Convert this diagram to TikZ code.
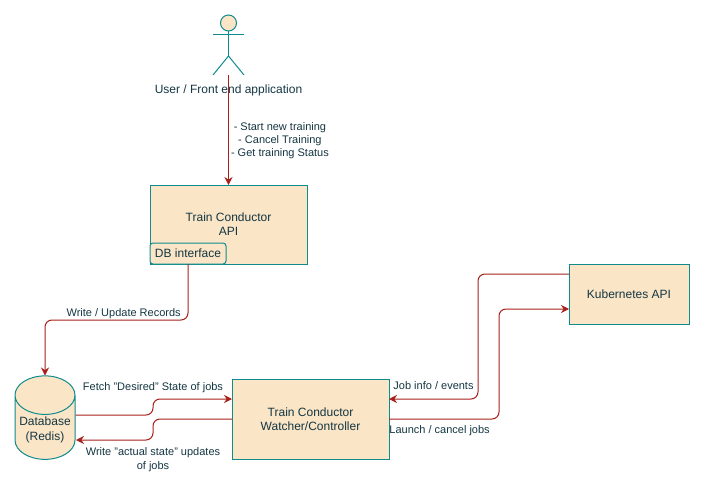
\documentclass[tikz,border=0pt]{standalone}
\usepackage{fontspec}
\setmainfont{Liberation Sans}
\usetikzlibrary{arrows.meta, positioning, calc, shapes.geometric}
\definecolor{boxfill}{HTML}{FAE5C7}
\definecolor{boxline}{HTML}{0F8B8D}
\definecolor{linkline}{HTML}{A8201A}
\definecolor{labeltext}{HTML}{143642}
\tikzset{%
  box/.style={draw=boxline, fill=boxfill, text=labeltext, align=center, inner sep=0pt, outer sep=0pt, line width=1pt, font=\fontsize{12}{14}\selectfont},
  limb/.style={draw=boxline, line width=1pt},
  link/.style={draw=linkline, line width=1pt, rounded corners=7pt, -{Stealth[length=8pt,width=8pt]}},
  tag/.style={text=labeltext, align=center, inner sep=0pt, font=\fontsize{11}{13}\selectfont},
}
\begin{document}
\begin{tikzpicture}[x=1pt,y=-1pt]
  \useasboundingbox (0,0) rectangle (705,487);

  \node[box, circle, minimum size=16pt] (head) at (228.5,23) {};
  \coordinate (hip) at (228.5,56);
  \coordinate (armleft) at (213,35);
  \coordinate (armright) at (244,35);
  \coordinate (footleft) at (213,75);
  \coordinate (footright) at (244,75);
  \coordinate (user) at (228.5,75);
  \draw[limb] (head) -- (hip);
  \draw[limb] (armleft) -- (armright);
  \draw[limb] (footleft) -- (hip) -- (footright);
  \node[tag, font=\fontsize{12}{14}\selectfont] (userlabel) at (228.5,90.5) {User / Front end application};

  \node[box, minimum width=157pt, minimum height=79pt] (api) at (228.5,224.5) {Train Conductor\\API};
  \node[box, rounded corners=3pt, minimum width=76pt, minimum height=21pt, anchor=south west] (dbif) at (api.south west) {DB interface};
  \node[box, minimum width=157pt, minimum height=80pt] (watcher) [below = 115pt of api, xshift=82pt] {Train Conductor\\Watcher/Controller};
  \node[box, minimum width=120pt, minimum height=60pt] (kube) [above right = 55pt and 180pt of watcher.north east] {Kubernetes API};
  \node[box, cylinder, shape border rotate=90, aspect=0.75, minimum width=60pt, minimum height=79pt] (db) [left = 187pt of watcher.west, anchor=center, yshift=-8.5pt] {\raisebox{-2pt}[\height][\depth]{Database}\\\raisebox{-3pt}[\height][\depth]{(Redis)}};

  % user to api
  \draw[link] (user) -- node[tag, right=2pt, pos=0.6] (calls) {- Start new training\\- Cancel Training\\- Get training Status} (api.north);

  % api to db
  \coordinate (apiout) at (188,264);
  \coordinate (dbin) at (45,375.5);
  \draw[link] (apiout) -- (188,320) -- node[tag, above=1pt, pos=0.45] (records) {Write / Update Records} (45,320) -- (dbin);

  % db and watcher
  \coordinate (fetchout) at (75.5,415);
  \coordinate (fetchin) at (232,399);
  \coordinate (writeout) at (232,419);
  \coordinate (writein) at (76,440);
  \draw[link] (fetchout) -- (153,415) -- (153,399) -- node[tag, above=6pt, pos=0] (fetch) {Fetch "Desired" State of jobs} (fetchin);
  \draw[link] (writeout) -- (153,419) -- (153,440) -- node[tag, below=7pt, pos=0, font=\fontsize{11}{14}\selectfont] (write) {Write "actual state" updates\\of jobs} (writein);

  % kubernetes and watcher
  \coordinate (jobout) at (569,274);
  \coordinate (jobin) at (389,399);
  \coordinate (launchout) at (389,419);
  \coordinate (launchin) at (569,309);
  \draw[link] (jobout) -- (478,274) -- (478,399) -- node[tag, above=9pt, pos=0.5] (jobinfo) {Job info / events} (jobin);
  \draw[link] (launchout) -- node[tag, below=6pt, pos=0.46] (launch) {Launch / cancel jobs} (499,419) -- (499,309) -- (launchin);
\end{tikzpicture}
\end{document}
